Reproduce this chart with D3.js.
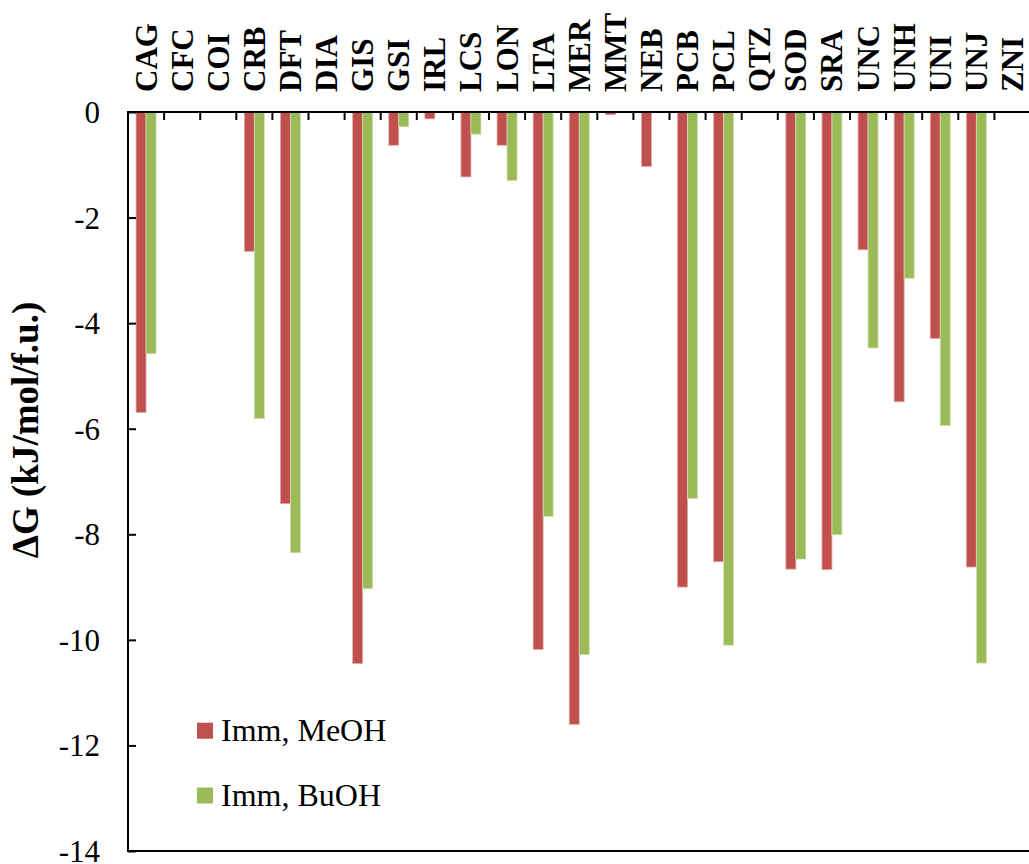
<!DOCTYPE html>
<html>
<head>
<meta charset="utf-8">
<script src="https://cdn.jsdelivr.net/npm/d3@7/dist/d3.min.js"></script>
<style>
  html, body { margin: 0; padding: 0; background: #fff; overflow: hidden; }
  svg { display: block; }
</style>
</head>
<body>
<svg id="chart" width="1029" height="864"></svg>
<script>
// Minerals (phase codes)
const categories = ["CAG","CFC","COI","CRB","DFT","DIA","GIS","GSI","IRL","LCS","LON","LTA","MER","MMT","NEB","PCB","PCL","QTZ","SOD","SRA","UNC","UNH","UNI","UNJ","ZNI"];

// Free energy of immersion, kJ/mol per formula unit (null = no bar)
const meohValues = [-5.69, null, null, -2.64, -7.42, null, -10.45, -0.63, -0.13, -1.23, -0.63, -10.18, -11.60, -0.05, -1.03, -9.00, -8.52, null, -8.66, -8.67, -2.61, -5.49, -4.29, -8.62, null];
const buohValues = [-4.58, null, null, -5.81, -8.35, null, -9.03, -0.28, null, -0.42, -1.30, -7.66, -10.28, null, null, -7.32, -10.10, null, -8.47, -8.01, -4.47, -3.15, -5.94, -10.44, null];

const seriesNames = ["Imm, MeOH", "Imm, BuOH"];
const seriesColors = ["#C0504D", "#9BBB59"];
const seriesStroke = ["#e2a9a7", "#cfe0ae"];

const yTicks = [0, -2, -4, -6, -8, -10, -12, -14];
const yTitle = "\u0394G (kJ/mol/f.u.)";

const serif = "Liberation Serif";

const svg = d3.select("#chart");

const plotLeft = 128, plotTop = 112, plotBottom = 851, plotRight = 1030.5;

const x = d3.scaleBand().domain(categories).range([plotLeft, plotRight]).paddingInner(0).paddingOuter(0);
const y = d3.scaleLinear().domain([-14, 0]).range([plotBottom, plotTop]);

const barW = 10;
const pairOffset = (x.bandwidth() - 2 * barW) / 2;

const series = [meohValues, buohValues];

// Bars
series.forEach((vals, si) => {
  svg.append("g")
    .selectAll("rect")
    .data(categories.map((c, i) => ({ c, v: vals[i] })).filter(d => d.v !== null))
    .join("rect")
    .attr("x", d => x(d.c) + pairOffset + si * barW)
    .attr("y", y(0))
    .attr("width", barW)
    .attr("height", d => y(d.v) - y(0))
    .attr("fill", seriesColors[si])
    .attr("stroke", seriesStroke[si])
    .attr("stroke-width", 0.8);
});

// Left axis with inward ticks
const yAxis = d3.axisLeft(y)
  .tickValues(yTicks)
  .tickSizeInner(-8)
  .tickSizeOuter(0)
  .tickPadding(28);

const gy = svg.append("g")
  .attr("transform", `translate(${plotLeft},0)`)
  .call(yAxis)
  .attr("font-family", serif);
gy.select(".domain").remove();
gy.selectAll(".tick line").attr("stroke", "#000").attr("stroke-width", 2);
gy.selectAll(".tick text")
  .attr("font-family", serif)
  .attr("font-size", 31)
  .attr("fill", "#000")
  .attr("dy", "0.34em")
  .text(d => d === 0 ? "0" : "-" + Math.abs(d));

// Axis lines
svg.append("line").attr("x1", plotLeft).attr("x2", 1029).attr("y1", y(0)).attr("y2", y(0))
  .attr("stroke", "#000").attr("stroke-width", 2);
svg.append("line").attr("x1", plotLeft).attr("x2", 1029).attr("y1", y(-14)).attr("y2", y(-14))
  .attr("stroke", "#000").attr("stroke-width", 2);
svg.append("line").attr("x1", plotLeft).attr("x2", plotLeft).attr("y1", y(0) - 1).attr("y2", y(-14) + 1)
  .attr("stroke", "#000").attr("stroke-width", 2);

// Category boundary ticks hanging from the zero line
svg.append("g")
  .selectAll("line")
  .data(categories.slice(1))
  .join("line")
  .attr("x1", d => x(d))
  .attr("x2", d => x(d))
  .attr("y1", y(0))
  .attr("y2", y(0) + 8)
  .attr("stroke", "#000")
  .attr("stroke-width", 2);

// Category labels above the plot, rotated
svg.append("g")
  .selectAll("text")
  .data(categories)
  .join("text")
  .attr("transform", d => `translate(${x(d) + x.bandwidth() / 2},92) rotate(-90)`)
  .attr("dy", "0.34em")
  .attr("text-anchor", "start")
  .attr("font-family", serif)
  .attr("font-size", 31)
  .attr("font-weight", "bold")
  .attr("fill", "#000")
  .text(d => d);

// Y-axis title
svg.append("text")
  .attr("transform", "translate(38,430) rotate(-90)")
  .attr("text-anchor", "middle")
  .attr("font-family", serif)
  .attr("font-size", 37)
  .attr("font-weight", "bold")
  .attr("fill", "#000")
  .text(yTitle);

// Legend
const legend = svg.append("g");
const legendRows = [{ sq: 722.7, base: 741 }, { sq: 787.5, base: 806 }];
seriesNames.forEach((name, i) => {
  legend.append("rect")
    .attr("x", 197).attr("y", legendRows[i].sq)
    .attr("width", 16).attr("height", 16)
    .attr("fill", seriesColors[i]);
  legend.append("text")
    .attr("x", 221).attr("y", legendRows[i].base)
    .attr("font-family", serif)
    .attr("font-size", 32)
    .attr("fill", "#000")
    .text(name);
});
</script>
</body>
</html>
